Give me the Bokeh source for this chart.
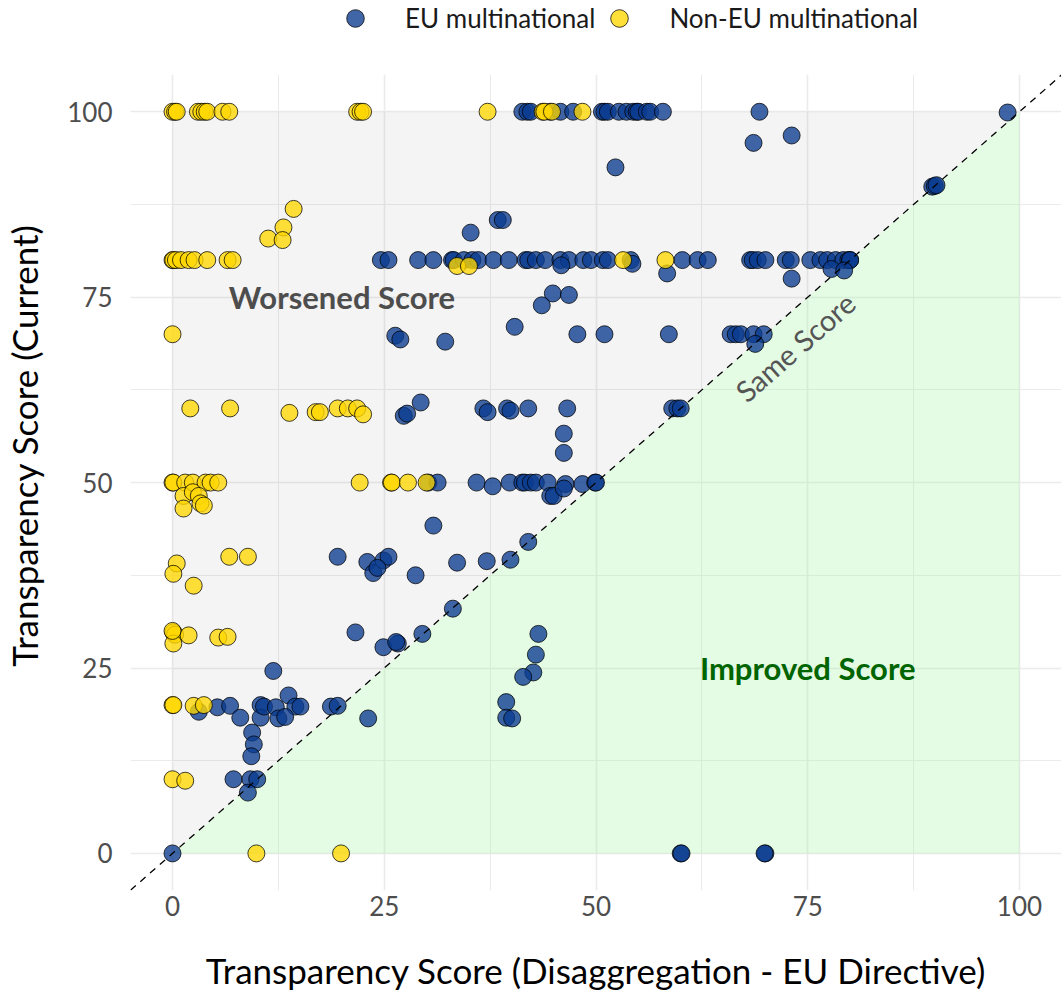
import math
from bokeh.plotting import figure
from bokeh.models import Range1d, FixedTicker, Legend, LegendItem, Label
from bokeh.embed import file_html
from bokeh.resources import INLINE

# ---------------- data ----------------
eu_x = [41.3, 41.9, 42.3, 44.6, 45.8, 47.3, 50.7, 51.0, 51.4, 52.7, 53.6, 54.4, 54.8, 55.0, 56.0, 56.4, 57.9, 69.3, 98.6,
        68.6, 73.1, 52.3, 89.7, 90.0, 90.2, 38.4, 39.0, 35.2,
        24.6, 25.5, 29.0, 30.8, 33.0, 33.2, 34.4, 35.4, 36.1, 37.9, 39.7, 41.7, 42.0, 42.9, 44.0, 45.8, 46.8, 48.5, 49.4,
        50.8, 51.4, 54.1, 60.2, 62.0, 63.2, 68.2, 68.5, 69.1, 70.0, 72.4, 73.0, 75.3, 76.5, 77.3, 78.3, 79.2, 79.8, 80.0, 80.0,
        45.9, 54.3, 58.4, 77.8, 79.3, 73.1,
        44.9, 46.8, 43.6, 40.4,
        26.3, 26.9, 32.2, 47.8, 51.0, 58.6, 65.9, 66.5, 67.1, 68.6, 69.8, 68.8,
        29.3, 27.3, 27.7, 36.7, 37.2, 39.5, 39.9, 42.0, 46.6, 46.2, 46.2, 59.0, 59.6, 60.0,
        30.2, 31.3, 30.8, 35.9, 37.8, 39.8, 41.3, 41.6, 42.3, 42.9, 44.3, 44.6, 45.0, 46.4, 46.2, 48.4, 49.9, 50.0,
        33.6, 37.1, 39.9, 42.0, 19.5, 23.0, 23.7, 24.9, 25.5, 24.2, 28.7, 33.1,
        29.5, 21.6, 24.9, 26.6, 26.4,
        43.2, 42.9, 42.6, 41.4, 39.4, 39.4, 40.1,
        11.9,
        3.1, 5.3, 6.8, 8.0, 9.4, 9.6, 9.3, 10.4, 10.4, 10.8, 12.2, 12.5, 13.7, 14.5, 15.1, 13.3, 18.7, 19.5, 23.1,
        7.2, 9.2, 10.0, 8.9,
        0.0, 60.0, 60.1, 70.0, 69.9]
eu_y = [100, 100, 100, 100, 100, 100, 100, 100, 100, 100, 100, 100, 100, 100, 100, 100, 100, 100, 99.9,
        95.8, 96.8, 92.5, 89.9, 90.0, 90.1, 85.4, 85.4, 83.7,
        80, 80, 80, 80, 80, 80, 80, 80, 80, 80, 80, 80, 80, 80, 80, 80, 80, 80, 80,
        80, 80, 80, 80, 80, 80, 80, 80, 80, 80, 80, 80, 80, 80, 80, 80, 80, 80, 80, 80,
        79.3, 79.5, 78.2, 78.8, 78.6, 77.5,
        75.5, 75.3, 73.9, 71.0,
        69.8, 69.3, 69.0, 70, 70, 70, 70, 70, 70, 70, 70, 68.7,
        60.8, 59.0, 59.3, 60, 59.5, 60, 59.7, 60, 60, 56.6, 54.0, 60, 60, 60,
        50, 50, 44.2, 50, 49.5, 50, 50, 50, 50, 50, 50, 48.2, 48.2, 49.8, 49.2, 49.8, 50, 50,
        39.2, 39.4, 39.6, 42.0, 40.0, 39.3, 37.8, 39.5, 40.0, 38.5, 37.5, 33.0,
        29.6, 29.8, 27.8, 28.3, 28.5,
        29.6, 26.8, 24.4, 23.8, 20.4, 18.3, 18.2,
        24.6,
        19.1, 19.7, 19.9, 18.3, 16.3, 14.7, 13.1, 20.0, 18.3, 19.8, 19.7, 18.2, 21.3, 19.8, 19.8, 18.4, 19.8, 19.9, 18.2,
        10.0, 10.0, 10.0, 8.2,
        0, 0, 0, 0, 0]

noneu_x = [0.0, 0.3, 0.5, 3.0, 3.4, 3.8, 4.1, 5.9, 6.7, 21.8, 22.2, 22.5, 37.2, 43.7, 43.9, 44.8, 48.4,
           14.3, 13.1, 11.3, 13.0,
           0.0, 0.1, 0.4, 1.0, 1.9, 2.6, 4.1, 6.5, 7.1, 53.2, 58.2, 33.6, 35.0,
           0.0,
           2.1, 6.8, 13.8, 16.9, 17.4, 19.5, 20.7, 21.8, 22.5,
           0.0, 0.1, 1.5, 2.4, 3.9, 4.5, 5.4, 22.1, 25.8, 25.9, 27.8, 30.0, 1.3, 2.4, 3.1, 3.3, 3.7, 1.3,
           6.7, 8.9, 0.5, 0.1, 2.5,
           0.1, 0.3, 1.9, 0.1, 5.4, 6.5, 0.0,
           0.0, 0.1, 2.5, 3.7,
           0.0, 1.5,
           9.9, 19.9]
noneu_y = [100, 100, 100, 100, 100, 100, 100, 100, 100, 100, 100, 100, 100, 100, 100, 100, 100,
           86.9, 84.4, 82.9, 82.7,
           80, 80, 80, 80, 80, 80, 80, 80, 80, 80, 80, 79.2, 79.2,
           70,
           60, 60, 59.4, 59.5, 59.5, 60, 60, 60, 59.2,
           50, 50, 50, 50, 50, 50, 50, 50, 50, 50, 50, 50, 48.2, 48.7, 48.2, 47.2, 46.9, 46.5,
           40, 40, 39.1, 37.7, 36.1,
           29.8, 29.5, 29.4, 28.3, 29.1, 29.2, 30.0,
           20, 20, 19.9, 20,
           10, 9.8,
           0, 0]

score_min, score_max = 0, 100
tick_values = [0, 25, 50, 75, 100]
minor_values = [12.5, 37.5, 62.5, 87.5]
series_names = ["EU multinational", "Non-EU multinational"]

FONT = "Lato"
X0, X1 = -4.96, 104.96          # panel x extent
Y0, YP = -5, 105                # panel y extent
Y1 = 115                        # extra room at top of frame for the legend

p = figure(width=1061, height=994, output_backend="svg", toolbar_location=None,
           x_range=Range1d(X0, X1), y_range=Range1d(Y0, Y1),
           min_border_left=130, min_border_right=0, min_border_top=0, min_border_bottom=104)
p.outline_line_color = None
p.background_fill_color = "white"
p.border_fill_color = "white"

for ax in (p.xaxis, p.yaxis):
    ax.ticker = FixedTicker(ticks=tick_values, minor_ticks=minor_values)
    ax.axis_line_color = None
    ax.major_tick_line_color = None
    ax.minor_tick_line_color = None
    ax.major_tick_out = 0
    ax.minor_tick_out = 0
    ax.major_label_text_font = FONT
    ax.major_label_text_font_size = "26px"
    ax.major_label_text_color = "#4d4d4d"
    ax.axis_label_text_font = FONT
    ax.axis_label_text_font_size = "35px"
    ax.axis_label_text_font_style = "normal"
    ax.axis_label_text_color = "#000000"

p.xaxis.axis_label = "Transparency Score (Disaggregation - EU Directive)"
p.yaxis.axis_label = "Transparency Score (Current)"
p.xaxis.major_label_standoff = 5
p.xaxis.axis_label_standoff = 30
p.yaxis.major_label_standoff = 18
p.yaxis.axis_label_standoff = 19

for g in (p.xgrid, p.ygrid):
    g.grid_line_color = "#ebebeb"
    g.grid_line_width = 1.6
    g.minor_grid_line_color = "#ebebeb"
    g.minor_grid_line_width = 1.0

# white band above the panel (legend area) so grid lines stop at the panel top
p.quad(left=[X0], right=[X1], bottom=[YP], top=[Y1], fill_color="white", line_color=None)

# regions
p.patch([score_min, score_min, score_max], [score_min, score_max, score_max],
        fill_color="#808080", fill_alpha=0.085, line_color=None)
p.patch([score_min, score_max, score_max], [score_min, score_min, score_max],
        fill_color="#90ee90", fill_alpha=0.24, line_color=None)

r_eu = p.scatter(eu_x, eu_y, size=17, marker="circle", fill_color="#0a3b90", fill_alpha=0.78,
                 line_color="black", line_alpha=0.75, line_width=1)
r_non = p.scatter(noneu_x, noneu_y, size=17, marker="circle", fill_color="#ffd700", fill_alpha=0.78,
                  line_color="black", line_alpha=0.75, line_width=1)

# identity line
p.line([X0, X1], [X0, X1], line_color="black", line_dash="7 6", line_width=1.3)

p.add_layout(Label(x=20, y=75, text="Worsened Score", text_font=FONT, text_font_size="31px",
                   text_font_style="bold", text_color="#4d4d4d", text_align="center",
                   text_baseline="middle"))
p.add_layout(Label(x=75, y=25, text="Improved Score", text_font=FONT, text_font_size="31px",
                   text_font_style="bold", text_color="#006400", text_align="center",
                   text_baseline="middle"))
ang = math.atan2(890 / (Y1 - Y0), 931 / (X1 - X0))
p.add_layout(Label(x=73.5, y=68.3, text="Same Score", text_font=FONT, text_font_size="29px",
                   text_color="#555555", text_align="center", text_baseline="middle", angle=ang))

legend = Legend(items=[LegendItem(label=series_names[0], renderers=[r_eu]),
                       LegendItem(label=series_names[1], renderers=[r_non])],
                location=(203, 850), orientation="horizontal",
                glyph_width=44, glyph_height=44, label_standoff=28, spacing=2,
                padding=0, margin=0, border_line_color=None, background_fill_alpha=0,
                label_text_font=FONT, label_text_font_size="26px", label_text_color="#1a1a1a",
                label_text_baseline="middle")
p.add_layout(legend, "center")

open("out.html", "w").write(file_html(p, INLINE))
